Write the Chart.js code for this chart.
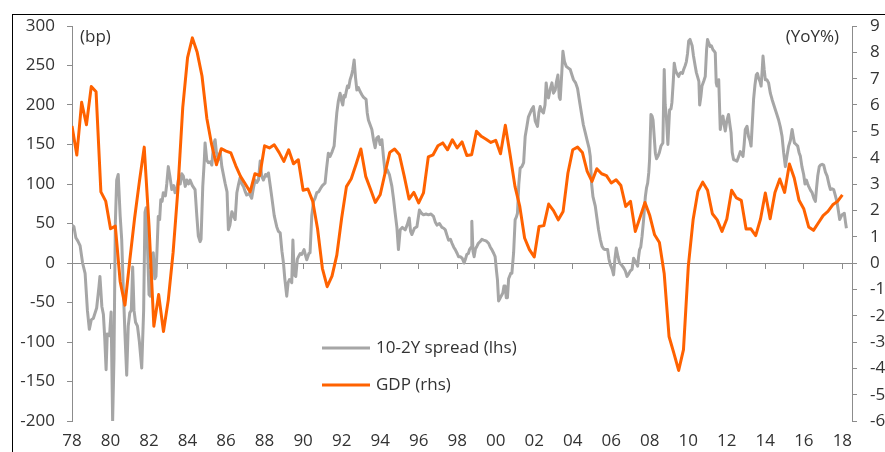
<!DOCTYPE html>
<html lang="en">
<head>
  <meta charset="UTF-8" />
  <title>10-2Y spread vs GDP</title>
  <script src="https://cdn.jsdelivr.net/npm/chart.js"></script>
  <style>
    html, body {
      margin: 0;
      padding: 0;
      background: white;
      overflow: hidden;
    }
    .wrap {
      position: relative;
      width: 885px;
      height: 452px;
    }
    .frame {
      position: absolute;
      left: 12px;
      top: 14px;
      width: 950px;
      height: 520px;
      border: 1px solid #000;
      pointer-events: none;
    }
  </style>
</head>
<body>
  <div class="wrap">
    <canvas id="chart" width="885" height="452"></canvas>
    <div class="frame"></div>
  </div>

  <script>
    // 10-2Y spread (bp) at the years given
    const spreadYears = [
      1978.00, 1978.10, 1978.20, 1978.30, 1978.42, 1978.55, 1978.68, 1978.80, 1978.90, 1979.00,
      1979.11, 1979.28, 1979.40, 1979.45, 1979.55, 1979.63, 1979.70, 1979.77, 1979.83, 1979.95,
      1980.03, 1980.11, 1980.18, 1980.25, 1980.32, 1980.40, 1980.50, 1980.58, 1980.66, 1980.75,
      1980.84, 1980.92, 1981.00, 1981.08, 1981.15, 1981.22, 1981.30, 1981.40, 1981.50, 1981.62,
      1981.72, 1981.79, 1981.85, 1981.92, 1982.00, 1982.07, 1982.15, 1982.22, 1982.30, 1982.36,
      1982.42, 1982.48, 1982.55, 1982.61, 1982.68, 1982.74, 1982.85, 1982.92, 1983.00, 1983.08,
      1983.18, 1983.28, 1983.35, 1983.45, 1983.52, 1983.62, 1983.70, 1983.78, 1983.88, 1983.96,
      1984.05, 1984.13, 1984.25, 1984.39, 1984.48, 1984.56, 1984.65, 1984.70, 1984.79, 1984.87,
      1984.91, 1985.00, 1985.08, 1985.18, 1985.26, 1985.35, 1985.43, 1985.50, 1985.60, 1985.70,
      1985.78, 1985.95, 1986.05, 1986.12, 1986.20, 1986.30, 1986.38, 1986.47, 1986.56, 1986.65,
      1986.73, 1986.82, 1986.90, 1987.00, 1987.07, 1987.20, 1987.33, 1987.42, 1987.51, 1987.60,
      1987.68, 1987.77, 1987.85, 1987.94, 1988.05, 1988.12, 1988.20, 1988.28, 1988.37, 1988.50,
      1988.63, 1988.72, 1988.81, 1988.90, 1988.98, 1989.05, 1989.15, 1989.22, 1989.29, 1989.36,
      1989.41, 1989.47, 1989.54, 1989.62, 1989.70, 1989.76, 1989.85, 1989.93, 1990.05, 1990.12,
      1990.19, 1990.30, 1990.36, 1990.45, 1990.54, 1990.62, 1990.71, 1990.80, 1990.92, 1991.00,
      1991.14, 1991.22, 1991.31, 1991.40, 1991.51, 1991.61, 1991.68, 1991.75, 1991.83, 1991.92,
      1992.00, 1992.06, 1992.12, 1992.18, 1992.30, 1992.37, 1992.44, 1992.52, 1992.58, 1992.65,
      1992.72, 1992.79, 1992.87, 1992.96, 1993.05, 1993.13, 1993.27, 1993.33, 1993.39, 1993.48,
      1993.57, 1993.66, 1993.74, 1993.82, 1993.91, 1994.00, 1994.09, 1994.17, 1994.26, 1994.37,
      1994.48, 1994.61, 1994.70, 1994.78, 1994.87, 1994.95, 1995.04, 1995.15, 1995.30, 1995.40,
      1995.51, 1995.58, 1995.65, 1995.78, 1995.91, 1996.04, 1996.15, 1996.25, 1996.38, 1996.51,
      1996.64, 1996.77, 1996.86, 1996.95, 1997.08, 1997.21, 1997.30, 1997.38, 1997.47, 1997.55,
      1997.65, 1997.73, 1997.82, 1997.90, 1998.00, 1998.07, 1998.16, 1998.26, 1998.36, 1998.43,
      1998.50, 1998.58, 1998.64, 1998.72, 1998.76, 1998.82, 1998.88, 1998.95, 1999.02, 1999.10,
      1999.19, 1999.28, 1999.37, 1999.50, 1999.63, 1999.72, 1999.80, 1999.90, 1999.97, 2000.04,
      2000.09, 2000.15, 2000.20, 2000.28, 2000.37, 2000.43, 2000.49, 2000.55, 2000.61, 2000.67,
      2000.72, 2000.78, 2000.84, 2000.93, 2001.01, 2001.07, 2001.13, 2001.20, 2001.27, 2001.36,
      2001.45, 2001.53, 2001.62, 2001.70, 2001.79, 2001.88, 2001.96, 2002.05, 2002.17, 2002.24,
      2002.31, 2002.40, 2002.48, 2002.56, 2002.62, 2002.68, 2002.74, 2002.83, 2002.92, 2003.00,
      2003.09, 2003.16, 2003.23, 2003.30, 2003.35, 2003.43, 2003.49, 2003.57, 2003.66, 2003.76,
      2003.87, 2003.96, 2004.04, 2004.15, 2004.25, 2004.35, 2004.45, 2004.55, 2004.65, 2004.75,
      2004.85, 2004.91, 2004.98, 2005.05, 2005.17, 2005.25, 2005.34, 2005.43, 2005.52, 2005.60,
      2005.69, 2005.81, 2005.88, 2005.95, 2006.05, 2006.12, 2006.19, 2006.26, 2006.35, 2006.43,
      2006.52, 2006.64, 2006.73, 2006.82, 2006.90, 2006.99, 2007.08, 2007.16, 2007.25, 2007.37,
      2007.42, 2007.47, 2007.53, 2007.60, 2007.68, 2007.77, 2007.83, 2007.89, 2007.95, 2007.99,
      2008.06, 2008.12, 2008.17, 2008.23, 2008.29, 2008.35, 2008.42, 2008.50, 2008.58, 2008.68,
      2008.75, 2008.80, 2008.86, 2008.94, 2009.03, 2009.10, 2009.15, 2009.22, 2009.27, 2009.33,
      2009.38, 2009.50, 2009.56, 2009.62, 2009.70, 2009.76, 2009.84, 2009.90, 2009.96, 2010.02,
      2010.09, 2010.14, 2010.20, 2010.27, 2010.36, 2010.42, 2010.48, 2010.55, 2010.59, 2010.65,
      2010.71, 2010.80, 2010.88, 2010.95, 2011.00, 2011.07, 2011.14, 2011.20, 2011.28, 2011.35,
      2011.40, 2011.45, 2011.49, 2011.54, 2011.58, 2011.62, 2011.66, 2011.72, 2011.80, 2011.86,
      2011.92, 2012.00, 2012.09, 2012.16, 2012.22, 2012.28, 2012.35, 2012.45, 2012.53, 2012.62,
      2012.70, 2012.78, 2012.84, 2012.90, 2012.96, 2013.05, 2013.13, 2013.20, 2013.26, 2013.33,
      2013.39, 2013.46, 2013.53, 2013.59, 2013.65, 2013.72, 2013.78, 2013.84, 2013.88, 2013.94,
      2014.00, 2014.08, 2014.17, 2014.26, 2014.35, 2014.44, 2014.52, 2014.60, 2014.69, 2014.78,
      2014.87, 2014.95, 2015.04, 2015.12, 2015.21, 2015.30, 2015.39, 2015.45, 2015.51, 2015.60,
      2015.68, 2015.75, 2015.82, 2015.90, 2015.99, 2016.06, 2016.13, 2016.20, 2016.25, 2016.35,
      2016.43, 2016.52, 2016.60, 2016.66, 2016.72, 2016.80, 2016.86, 2016.95, 2017.03, 2017.12,
      2017.21, 2017.30, 2017.38, 2017.47, 2017.55, 2017.64, 2017.73, 2017.80, 2017.86, 2017.92,
      2017.98, 2018.05, 2018.10, 2018.16, 2018.21
    ];
    const spreadBp = [
      48, 46, 32, 28, 22, 0, -13, -60, -84, -72,
      -70, -57, -30, -17, -55, -65, -95, -135, -90, -92,
      -62, -200, -120, 50, 105, 112, 60, 30, -30, -90,
      -142, -80, -63, -60, -5, -60, -75, -80, -100, -133,
      -60, 64, 70, 20, -40, -42, 10, 13, -20, -17,
      20, 59, 55, 80, 78, 89, 85, 100, 122, 110,
      93, 98, 89, 95, 105, 100, 113, 110, 97, 105,
      100, 105, 98, 93, 60, 34, 27, 30, 97, 130,
      152, 130, 127, 128, 124, 150, 156, 140, 131, 140,
      122, 101, 90, 42, 48, 65, 60, 55, 89, 100,
      108, 100, 97, 90, 86, 88, 82, 95, 105, 102,
      105, 129, 110, 105, 112, 110, 114, 100, 84, 60,
      46, 40, 38, 15, 0, -20, -42, -25, -21, -22,
      -25, 29, -15, -17, 5, 8, 12, 11, 17, 10,
      4, 12, 13, 60, 78, 82, 89, 90, 95, 98,
      101, 120, 139, 135, 141, 148, 170, 190, 205, 215,
      205, 200, 212, 210, 224, 222, 232, 238, 245, 257,
      235, 219, 222, 217, 213, 210, 207, 190, 181, 175,
      169, 155, 146, 158, 160, 150, 156, 135, 114, 118,
      112, 97, 80, 63, 45, 17, 42, 45, 42, 48,
      57, 40, 36, 44, 46, 67, 63, 61, 62, 61,
      62, 59, 52, 48, 50, 45, 44, 42, 35, 29,
      30, 25, 20, 17, 12, 8, 8, 6, 0, 5,
      11, 12, 17, 20, 53, 15, 8, 18, 21, 25,
      27, 30, 29, 28, 25, 20, 17, 12, 8, -10,
      -21, -48, -46, -42, -38, -29, -29, -44, -44, -20,
      -17, -13, -13, 13, 55, 58, 63, 100, 120, 122,
      127, 160, 173, 185, 190, 195, 198, 180, 173, 190,
      198, 192, 190, 200, 228, 215, 209, 220, 228, 215,
      219, 230, 238, 210, 207, 240, 268, 255, 249, 247,
      245, 238, 232, 228, 221, 205, 190, 175, 165, 155,
      145, 135, 100, 84, 72, 58, 42, 30, 21, 18,
      17, 17, 5, -2, -8, -15, 5, 19, 8, 0,
      -2, -6, -10, -17, -14, -10, -8, 6, 2, -4,
      8, 17, 20, 34, 55, 84, 95, 101, 115, 131,
      188, 186, 181, 160, 139, 132, 135, 140, 148, 152,
      245, 200, 186, 150, 194, 195, 203, 230, 253, 245,
      241, 236, 240, 241, 240, 245, 250, 255, 265, 281,
      283, 283, 275, 262, 249, 241, 236, 230, 200, 210,
      224, 230, 236, 270, 283, 278, 274, 275, 270, 268,
      266, 228, 224, 230, 232, 200, 169, 180, 186, 175,
      167, 180, 188, 175, 165, 140, 131, 130, 129, 135,
      141, 138, 135, 150, 169, 173, 160, 155, 148, 180,
      207, 225, 238, 240, 234, 230, 224, 245, 262, 245,
      232, 232, 228, 215, 207, 200, 194, 188, 181, 172,
      160, 140, 122, 135, 148, 155, 169, 160, 152, 150,
      148, 140, 135, 122, 112, 100, 105, 100, 97, 92,
      89, 82, 78, 95, 110, 122, 124, 125, 124, 115,
      110, 100, 93, 94, 93, 85, 76, 65, 55, 58,
      61, 62, 63, 52, 44
    ];

    // GDP YoY %, quarterly from 1978 Q1
    const gdpStartYear = 1978;
    const gdpYoY = [
      5.2, 4.1, 6.1, 5.25, 6.7, 6.5, 2.7, 2.35,
      1.3, 1.4, -0.7, -1.6, 0.1, 1.7, 3.1, 4.4,
      1.4, -2.4, -1.2, -2.6, -1.4, 0.4, 2.8, 5.9,
      7.8, 8.55, 8.0, 7.1, 5.5, 4.5, 3.73, 4.34,
      4.25, 4.18, 3.7, 3.29, 3.0, 2.7, 3.39, 3.32,
      4.45, 4.37, 4.49, 4.2, 3.86, 4.3, 3.77, 3.92,
      2.76, 2.81, 2.34, 1.3, -0.2, -0.9, -0.5, 0.3,
      1.7, 2.9, 3.2, 3.75, 4.33, 3.29, 2.8, 2.3,
      2.59, 3.4, 4.2, 4.33, 4.11, 3.3, 2.43, 2.68,
      2.28, 2.66, 4.03, 4.11, 4.45, 4.56, 4.3, 4.68,
      4.37, 4.6, 4.08, 4.11, 5.0, 4.81, 4.7, 4.58,
      4.66, 4.15, 5.23, 4.1, 2.91, 2.15, 0.95, 0.51,
      0.23, 1.39, 1.42, 2.24, 1.99, 1.64, 1.96, 3.42,
      4.3, 4.4, 4.2, 3.48, 3.1, 3.58, 3.39, 3.32,
      3.04, 3.16, 2.94, 2.15, 2.34, 1.2, 1.75, 2.3,
      1.8, 1.07, 0.78, -0.41, -2.79, -3.42, -4.08, -3.29,
      -0.13, 1.64, 2.72, 3.07, 2.76, 1.87, 1.64, 1.2,
      1.67, 2.76, 2.47, 2.38, 1.29, 1.3, 1.04, 1.67,
      2.66, 1.68, 2.68, 3.19, 2.68, 3.76, 3.23, 2.38,
      2.05, 1.37, 1.24, 1.52, 1.8, 1.96, 2.21, 2.34,
      2.59
    ];

    const xTickYears = [1978, 1980, 1982, 1984, 1986, 1988, 1990, 1992, 1994, 1996, 1998,
                        2000, 2002, 2004, 2006, 2008, 2010, 2012, 2014, 2016, 2018];
    const xMin = 1978, xMax = 2018.5;
    const leftMin = -200, leftMax = 300, leftStep = 50;
    const rightMin = -6, rightMax = 9, rightStep = 1;

    const spreadPoints = spreadYears.map((yr, i) => ({ x: yr, y: spreadBp[i] }));
    const gdpPoints = gdpYoY.map((v, i) => ({ x: gdpStartYear + i / 4, y: v }));

    const FONT = { family: "'Open Sans', sans-serif", size: 17 };
    const TEXT = "#333333";
    const AXIS = "#8c8c8c";

    const setYearTicks = (scale) => {
      scale.ticks = xTickYears.map(v => ({ value: v }));
    };

    const overlay = {
      id: "overlay",
      afterDraw(chart) {
        const ctx = chart.ctx;
        ctx.save();
        ctx.font = "17px 'Open Sans', sans-serif";
        ctx.fillStyle = TEXT;
        ctx.textBaseline = "middle";
        ctx.textAlign = "left";
        ctx.fillText("(bp)", 80, 37);
        ctx.textAlign = "right";
        ctx.fillText("(YoY%)", 839, 37);

        // legend, inside the plot area
        const rows = [348, 385];
        chart.data.datasets.forEach((ds, i) => {
          const y = rows[i];
          ctx.strokeStyle = ds.borderColor;
          ctx.lineWidth = 3;
          ctx.beginPath();
          ctx.moveTo(322, y);
          ctx.lineTo(370, y);
          ctx.stroke();
          ctx.textAlign = "left";
          ctx.fillStyle = TEXT;
          ctx.fillText(ds.label, 376, y);
        });
        ctx.restore();
      }
    };

    new Chart(document.getElementById("chart"), {
      type: "line",
      data: {
        datasets: [
          {
            label: "10-2Y spread (lhs)",
            data: spreadPoints,
            borderColor: "#a6a6a6",
            borderWidth: 3,
            pointRadius: 0,
            tension: 0,
            yAxisID: "y",
            order: 2
          },
          {
            label: "GDP (rhs)",
            data: gdpPoints,
            borderColor: "#ff6200",
            borderWidth: 3,
            pointRadius: 0,
            tension: 0,
            yAxisID: "y1",
            order: 1
          }
        ]
      },
      options: {
        responsive: false,
        animation: false,
        devicePixelRatio: 1,
        borderJoinStyle: "round",
        layout: { padding: { top: 26, left: 0, right: 0, bottom: 0 } },
        plugins: {
          legend: { display: false },
          tooltip: { enabled: false }
        },
        scales: {
          x: {
            type: "linear",
            position: { y: 0 },
            min: xMin,
            max: xMax,
            afterBuildTicks: setYearTicks,
            ticks: { display: false },
            grid: { drawOnChartArea: false, drawTicks: true, tickLength: 5, color: AXIS },
            border: { display: true, color: AXIS, width: 1 }
          },
          x2: {
            type: "linear",
            position: "bottom",
            min: xMin,
            max: xMax,
            afterBuildTicks: setYearTicks,
            afterFit: (s) => { s.height = 31; },
            ticks: {
              color: TEXT,
              font: FONT,
              padding: 10,
              maxRotation: 0,
              autoSkip: false,
              callback: (v) => String(v % 100).padStart(2, "0")
            },
            grid: { display: false, drawTicks: false },
            border: { display: false }
          },
          y: {
            position: "left",
            min: leftMin,
            max: leftMax,
            afterFit: (s) => { s.width = 72; },
            ticks: { stepSize: leftStep, color: TEXT, font: FONT, padding: 12 },
            grid: { drawOnChartArea: false, drawTicks: true, tickLength: 5, color: AXIS },
            border: { display: true, color: AXIS, width: 1 }
          },
          y1: {
            position: "right",
            min: rightMin,
            max: rightMax,
            afterFit: (s) => { s.width = 33; },
            ticks: { stepSize: rightStep, color: TEXT, font: FONT, padding: 13 },
            grid: { drawOnChartArea: false, drawTicks: true, tickLength: 5, color: AXIS },
            border: { display: true, color: AXIS, width: 1 }
          }
        }
      },
      plugins: [overlay]
    });
  </script>
</body>
</html>
